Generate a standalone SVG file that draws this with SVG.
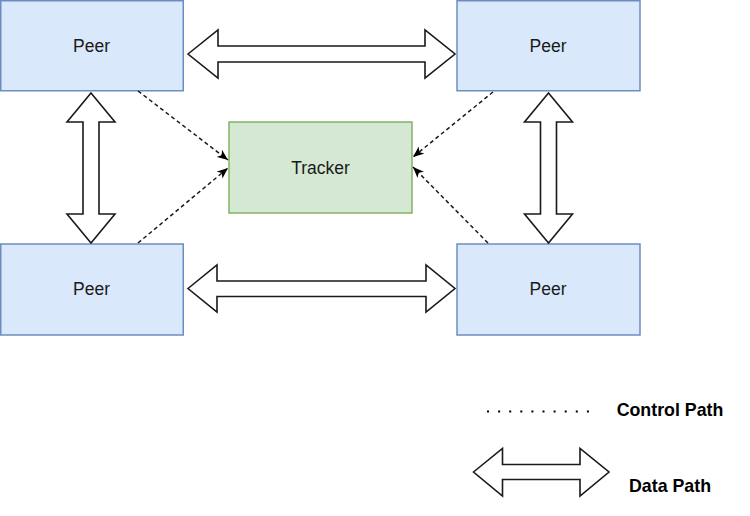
<svg xmlns="http://www.w3.org/2000/svg" width="750" height="516" viewBox="0 0 750 516">
<style>
.peer{fill:#dae8fc;stroke:#6c8ebf;stroke-width:1.5}
.trk{fill:#d5e8d4;stroke:#82b366;stroke-width:1.5}
.lbl{font-family:"Liberation Sans",Arial,sans-serif;font-size:17.5px;fill:#1a1a1a;text-anchor:middle}
.leg{font-family:"Liberation Sans",Arial,sans-serif;font-size:17.8px;font-weight:bold;fill:#000;text-anchor:middle}
.blk{fill:#fff;stroke:#1a1a1a;stroke-width:1.6;stroke-linejoin:miter}
.ctl{fill:none;stroke:#1a1a1a;stroke-width:1.5;stroke-dasharray:4 3;marker-end:url(#arr)}
</style>
<defs>
<marker id="arr" markerUnits="userSpaceOnUse" markerWidth="12" markerHeight="10" refX="11" refY="4.5" orient="auto" viewBox="0 0 12 9">
<path d="M0,0 L11,4.5 L0,9 L3,4.5 Z" fill="#000"/>
</marker>
</defs>
<g id="peer-tl"><rect class="peer" x="0.75" y="0.75" width="182.5" height="90"/><text class="lbl" x="91.5" y="52">Peer</text></g>
<g id="peer-tr"><rect class="peer" x="457" y="0.75" width="183" height="90"/><text class="lbl" x="548" y="52">Peer</text></g>
<g id="peer-bl"><rect class="peer" x="0.75" y="244" width="182.5" height="91"/><text class="lbl" x="91.5" y="295">Peer</text></g>
<g id="peer-br"><rect class="peer" x="457" y="244" width="183" height="91"/><text class="lbl" x="548" y="295">Peer</text></g>
<g id="tracker"><rect class="trk" x="229" y="122" width="183" height="91"/><text class="lbl" x="320.5" y="173.5">Tracker</text></g>
<g id="connectors">
<path class="blk" d="M188,54 L218,30 L218,46 L425,46 L425,30 L455,54 L425,78 L425,62 L218,62 L218,78 Z"/>
<path class="blk" d="M188,288.5 L217,265 L217,281 L426,281 L426,265 L455,288.5 L426,312 L426,296.5 L217,296.5 L217,312 Z"/>
<path class="blk" d="M91,93 L115,122 L99,122 L99,214 L115,214 L91,243 L67,214 L83,214 L83,122 L67,122 Z"/>
<path class="blk" d="M548.5,93 L572.5,122 L556.5,122 L556.5,214 L572.5,214 L548.5,243 L524.5,214 L540.5,214 L540.5,122 L524.5,122 Z"/>
<line class="ctl" x1="138" y1="91" x2="228" y2="160"/>
<line class="ctl" x1="138" y1="243" x2="228" y2="168"/>
<line class="ctl" x1="493" y1="92" x2="413" y2="157"/>
<line class="ctl" x1="488" y1="243" x2="413" y2="167"/>
</g>
<g id="legend">
<line x1="487" y1="411.5" x2="590" y2="411.5" stroke="#000" stroke-width="2" stroke-dasharray="2 9.1"/>
<text class="leg" x="670" y="416">Control Path</text>
<path class="blk" d="M473.5,472 L502.5,448.5 L502.5,464.5 L580,464.5 L580,448.5 L609,472 L580,496 L580,479.5 L502.5,479.5 L502.5,496 Z"/>
<text class="leg" x="670" y="492">Data Path</text>
</g>
</svg>
